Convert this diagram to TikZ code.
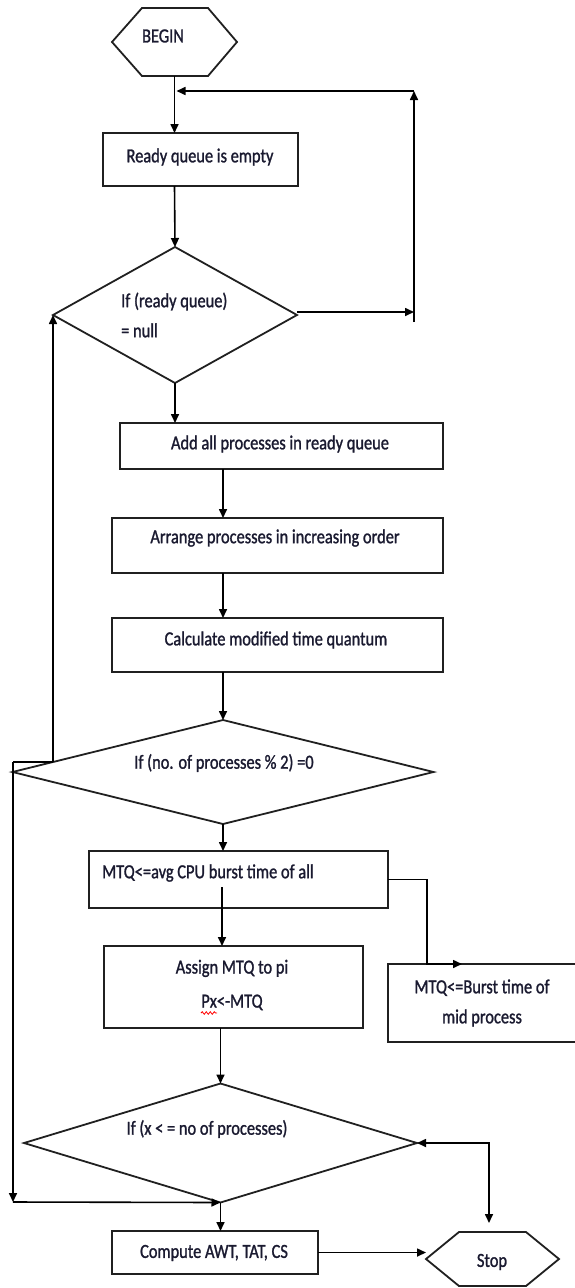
\documentclass[tikz,border=0pt]{standalone}
\usepackage{fontspec}
\setmainfont{Carlito}[FakeStretch=0.82,FakeBold=1.2]
\usetikzlibrary{arrows.meta,shapes.geometric,calc,decorations.pathmorphing}
\definecolor{txtc}{HTML}{1A1A30}
\definecolor{linec}{HTML}{202020}
\begin{document}
\begin{tikzpicture}[x=1pt,y=-1pt,
  shp/.style={draw=linec, line width=1.8pt},
  boxn/.style={shp, rectangle, inner sep=0pt, outer sep=0pt},
  dia/.style={shp, diamond, inner sep=0pt, outer sep=0pt},
  hexbox/.style={rectangle, inner sep=0pt, outer sep=0pt},
  txt/.style={font=\fontsize{20}{30}\selectfont, text=txtc, inner sep=0pt},
  tip/.tip={Triangle[length=9pt,width=8pt]},
  ln/.style={draw=black, line width=1.6pt},
  arr/.style={ln, -tip},
]
\useasboundingbox (0,0) rectangle (574,1288);

% BEGIN
\node[hexbox, minimum width=125pt, minimum height=68pt] (begin) at (174.5,42) {};
\draw[shp] (begin.west) -- ([xshift=30pt]begin.north west) -- ([xshift=-29pt]begin.north east)
  -- (begin.east) -- ([xshift=-29pt]begin.south east) -- ([xshift=30pt]begin.south west) -- cycle;
\node[txt] (begintxt) at (163,36) {BEGIN};

% Ready queue
\node[boxn, minimum width=195pt, minimum height=53pt] (ready) at (200.5,159.5) {};
\node[txt] (readytxt) at (200,157) {Ready queue is empty};

% Decision 1
\node[dia, minimum width=244pt, minimum height=136pt] (d1) at (175,315) {};
\node[txt, align=left, anchor=west] (d1txt) at (121,315) {If (ready queue)\\= null};

% Boxes
\node[boxn, minimum width=323pt, minimum height=46pt] (addall) at (281.5,446) {};
\node[txt] (addalltxt) at (280,444) {Add all processes in ready queue};

\node[boxn, minimum width=331pt, minimum height=55pt] (arrange) at (277.5,545.5) {};
\node[txt] (arrangetxt) at (275,538) {Arrange processes in increasing order};

\node[boxn, minimum width=331pt, minimum height=54pt] (calc) at (277.5,645) {};
\node[txt] (calctxt) at (276,640) {Calculate modified time quantum};

% Decision 2
\node[dia, minimum width=421pt, minimum height=104pt] (d2) at (223,772) {};
\node[txt] (d2txt) at (224,763) {If (no. of processes \% 2) =0};

\node[boxn, minimum width=299pt, minimum height=57pt] (mtq) at (238.5,879.5) {};
\node[txt, anchor=west] (mtqtxt) at (102,873) {MTQ<=avg CPU burst time of all};

\node[boxn, minimum width=212pt, minimum height=78pt] (mid) at (494,1003) {};
\node[txt, align=center] (midtxt) at (482,1003) {MTQ<=Burst time of\\mid process};

\node[boxn, minimum width=259pt, minimum height=82pt] (assign) at (233.5,987) {};
\node[txt, align=center, font=\fontsize{20}{34}\selectfont] (assigntxt) at (232,985) {Assign MTQ to pi\\Px<-MTQ};
\draw[red, line width=0.8pt, decorate, decoration={snake, amplitude=1.3pt, segment length=4pt}] (201,1013) -- (217,1013);

% Decision 3
\node[dia, minimum width=393pt, minimum height=119pt] (d3) at (220.5,1143) {};
\node[txt] (d3txt) at (207,1129) {If (x < = no of processes)};

\node[boxn, minimum width=206pt, minimum height=43pt] (compute) at (215,1252.5) {};
\node[txt] (computetxt) at (214,1253) {Compute AWT, TAT, CS};

% Stop
\node[hexbox, minimum width=133pt, minimum height=54pt] (stop) at (492.5,1259) {};
\draw[shp] (stop.west) -- ([xshift=33pt]stop.north west) -- ([xshift=-33pt]stop.north east)
  -- (stop.east) -- ([xshift=-33pt]stop.south east) -- ([xshift=33pt]stop.south west) -- cycle;
\node[txt] (stoptxt) at (492,1262) {Stop};

% Coordinates
\coordinate (r1) at (414,312);
\coordinate (r2) at (414,322);
\coordinate (r3) at (414,91);
\coordinate (cx) at (223,0);
\coordinate (min) at (222,887);
\coordinate (c1) at (427,964);
\coordinate (c2) at (462,964);
\coordinate (j1) at (53,762);
\coordinate (j2) at (13,762);
\coordinate (j3) at (13,1202);
\coordinate (s2) at (489,1223);

% Connectors
\draw[arr] (begin.south) -- (begin.south |- ready.north);
\draw[arr] (begin.south |- ready.south) -- (d1.north);
\draw[arr] (d1.east |- r1) -- (r1);
\draw[arr] (r2) -- (r3);
\draw[arr] (r3) -- ([xshift=2pt]begin.south |- r3);
\draw[arr] (d1.south) -- (d1.south |- addall.north);
\draw[arr] (cx |- addall.south) -- (cx |- arrange.north);
\draw[arr] (cx |- arrange.south) -- (cx |- calc.north);
\draw[arr] (cx |- calc.south) -- (d2.north);
\draw[arr] (d2.south) -- (d2.south |- mtq.north);
\draw[arr] (min) -- (min |- assign.north);
\draw[arr] (mtq.east) -| (c1) -- (c2);
\draw[arr] (d3.north |- assign.south) -- (d3.north);
\draw[arr] (j1) -- (d1.west);
\draw[ln] (j2) -- (j1);
\draw[arr] (j2) -- (j3);
\draw[arr] (j3) -- (d3.south);
\draw[arr] (d3.south) -- (d3.south |- compute.north);
\draw[arr] (compute.east) -- (compute.east -| stop.west);
\draw[ln, tip-tip] (d3.east) -| (s2);
\end{tikzpicture}
\end{document}
